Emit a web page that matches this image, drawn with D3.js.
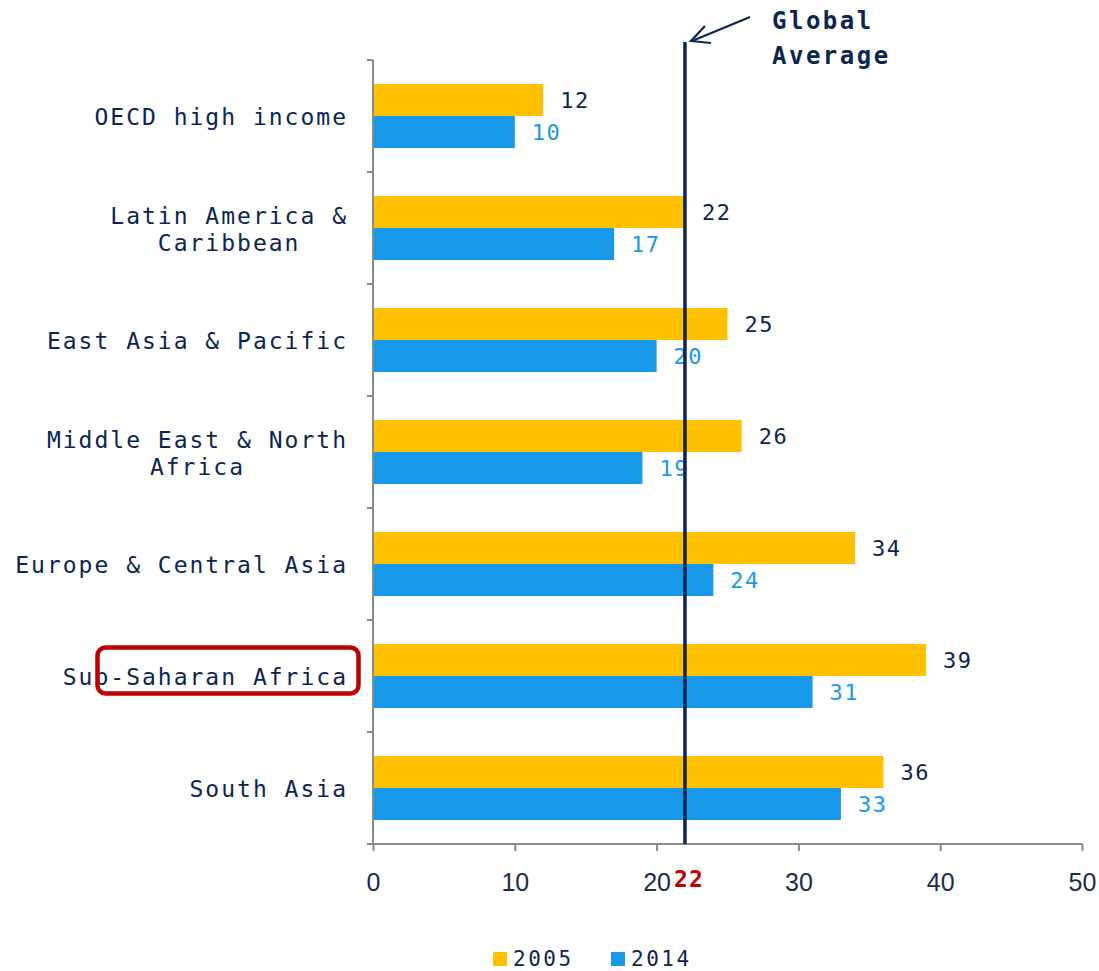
<!DOCTYPE html>
<html>
<head>
<meta charset="utf-8">
<script src="https://cdn.jsdelivr.net/npm/d3@7/dist/d3.min.js"></script>
<style>
  html, body { margin: 0; padding: 0; background: #fff; }
  svg { display: block; }
  .mono { font-family: "DejaVu Sans Mono", "Liberation Mono", monospace; }
</style>
</head>
<body>
<svg id="chart" width="1099" height="971"></svg>
<script>
// Regional values, share (%) by year
const categories = [
  ["OECD high income"],
  ["Latin America &", "Caribbean"],
  ["East Asia & Pacific"],
  ["Middle East & North", "Africa"],
  ["Europe & Central Asia"],
  ["Sub-Saharan Africa"],
  ["South Asia"]
];
const seriesNames = ["2005", "2014"];
const values2005 = [12, 22, 25, 26, 34, 39, 36];
const values2014 = [10, 17, 20, 19, 24, 31, 33];
const globalAverage = 22;
const xTicks = [0, 10, 20, 30, 40, 50];
const highlighted = "Sub-Saharan Africa";

const colors = { "2005": "#ffc000", "2014": "#1799ea" };
const labelColors = { "2005": "#0c2550", "2014": "#1799ea" };
const navy = "#0c2550";
const red = "#c00000";

const svg = d3.select("#chart");
const keys = categories.map(c => c.join(" "));
const seriesValues = { "2005": values2005, "2014": values2014 };

const x = d3.scaleLinear().domain([0, 50]).range([373, 1082]);
const y = d3.scaleBand().domain(keys).range([60, 844]).padding(0);
const yInner = d3.scaleBand().domain(seriesNames).range([0, y.bandwidth()])
  .paddingInner(0).paddingOuter(0.75);

// axes
const axisColor = "#8a8a8a";
const g = svg.append("g");
// y axis line with ticks at category boundaries
g.append("line").attr("x1", x(0)).attr("x2", x(0)).attr("y1", y.range()[0]).attr("y2", y.range()[1])
  .attr("stroke", axisColor).attr("stroke-width", 2);
const boundaries = keys.map(k => y(k)).concat([y.range()[1]]);
g.selectAll("line.ytick").data(boundaries).join("line").attr("class", "ytick")
  .attr("x1", x(0) - 6).attr("x2", x(0)).attr("y1", d => d).attr("y2", d => d)
  .attr("stroke", axisColor).attr("stroke-width", 2);

// x axis
const xAxis = d3.axisBottom(x).tickValues(xTicks).tickSize(7).tickPadding(31).tickFormat(d3.format("d"));
const gx = svg.append("g").attr("transform", `translate(0,${y.range()[1]})`).call(xAxis);
gx.select(".domain").attr("stroke", axisColor).attr("stroke-width", 2).attr("d", `M${x(0)},0H${x(50)}`);
gx.selectAll(".tick line").attr("stroke", axisColor).attr("stroke-width", 2);
gx.selectAll(".tick text").attr("fill", "#1b2b48").attr("font-family", "Liberation Sans, Arial, sans-serif")
  .attr("font-size", 25).attr("dy", "0.36em");

// bars
const groups = svg.append("g").selectAll("g").data(keys).join("g")
  .attr("transform", k => `translate(0,${y(k)})`);
seriesNames.forEach(s => {
  groups.append("rect")
    .attr("x", x(0) + 1)
    .attr("y", yInner(s))
    .attr("width", (k, i) => x(seriesValues[s][i]) - x(0) - 1)
    .attr("height", yInner.bandwidth())
    .attr("fill", colors[s]);
});

// global average line
svg.append("line")
  .attr("x1", x(globalAverage)).attr("x2", x(globalAverage))
  .attr("y1", 42).attr("y2", y.range()[1])
  .attr("stroke", navy).attr("stroke-width", 3.5);

// value labels
seriesNames.forEach(s => {
  groups.append("text")
    .attr("class", "mono")
    .attr("x", (k, i) => x(seriesValues[s][i]) + 17)
    .attr("y", yInner(s) + yInner.bandwidth() / 2)
    .attr("dy", "0.36em")
    .attr("font-size", 22)
    .attr("letter-spacing", 1.5)
    .attr("fill", labelColors[s])
    .text((k, i) => seriesValues[s][i]);
});

// category labels (multi-line, centred within a right-aligned block)
const lineH = 27;
const labelRight = 347;
const measure = svg.append("text").attr("class", "mono").attr("font-size", 23).attr("letter-spacing", 2);
categories.forEach((lines, i) => {
  const widths = lines.map(l => { measure.text(l); return measure.node().getComputedTextLength(); });
  const maxW = d3.max(widths);
  const cx = labelRight - maxW / 2;
  const cy = y(keys[i]) + y.bandwidth() / 2;
  const t = svg.append("text").attr("class", "mono").attr("font-size", 23).attr("letter-spacing", 2)
    .attr("fill", navy).attr("text-anchor", "middle");
  lines.forEach((l, j) => {
    t.append("tspan").attr("x", cx + 1)
      .attr("y", cy + 1 + (j - (lines.length - 1) / 2) * lineH)
      .attr("dy", "0.36em").text(l);
  });
  if (keys[i] === highlighted) {
    svg.append("rect").attr("x", 97.5).attr("y", cy - 28.5).attr("width", 261).attr("height", 46)
      .attr("rx", 8).attr("fill", "none").attr("stroke", red).attr("stroke-width", 4.5);
  }
});
measure.remove();

// global average annotation
svg.append("text").attr("class", "mono").attr("font-size", 24).attr("font-weight", "bold")
  .attr("letter-spacing", 2.5).attr("fill", navy)
  .selectAll("tspan").data(["Global", "Average"]).join("tspan")
  .attr("x", 772).attr("y", (d, i) => 29 + i * 35).text(d => d);
svg.append("line").attr("x1", 750).attr("y1", 17).attr("x2", 692).attr("y2", 41)
  .attr("stroke", navy).attr("stroke-width", 2.2);
svg.append("path").attr("d", "M705,26 L691,41 L711,43")
  .attr("fill", "none").attr("stroke", navy).attr("stroke-width", 2.2);

// average value on the axis
svg.append("text").attr("class", "mono").attr("x", x(globalAverage) + 4).attr("y", 887)
  .attr("text-anchor", "middle").attr("font-size", 23).attr("font-weight", "bold")
  .attr("letter-spacing", 1).attr("fill", red).text(globalAverage);

// legend
const legend = svg.append("g").attr("transform", "translate(493,952)");
const lx = d3.scalePoint().domain(seriesNames).range([0, 118]);
seriesNames.forEach(s => {
  const lg = legend.append("g").attr("transform", `translate(${lx(s)},0)`);
  lg.append("rect").attr("width", 14).attr("height", 14).attr("fill", colors[s]);
  lg.append("text").attr("class", "mono").attr("x", 20).attr("y", 14)
    .attr("font-size", 21).attr("letter-spacing", 2.5).attr("fill", navy).text(s);
});
</script>
</body>
</html>
